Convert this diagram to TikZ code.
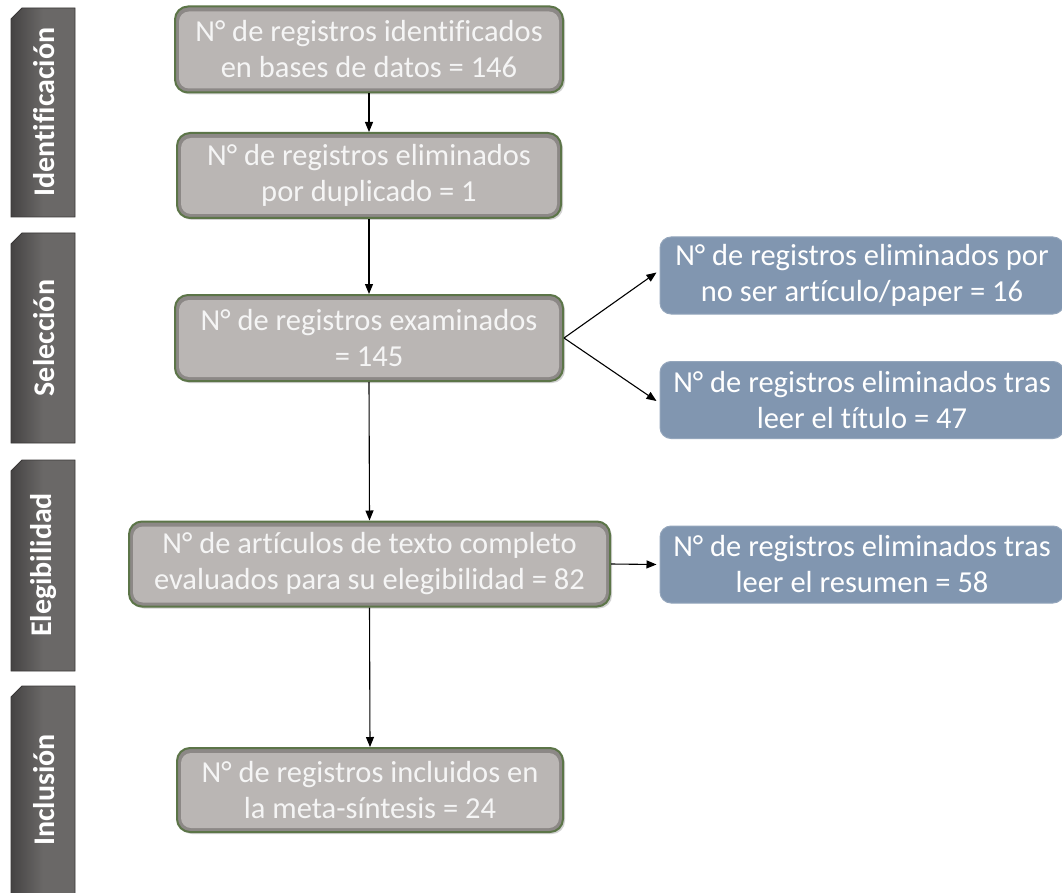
\documentclass[tikz,border=0pt]{standalone}
\usepackage{fontspec}
\setmainfont{Carlito}[Ligatures={NoCommon}]
\usetikzlibrary{arrows.meta,shadows}
\definecolor{barmid}{HTML}{6A6867}
\definecolor{barleft}{HTML}{454343}
\definecolor{baredge}{HTML}{3A3838}
\definecolor{boxedge}{HTML}{5C7548}
\definecolor{boxrim}{HTML}{8C8886}
\definecolor{boxin}{HTML}{BAB6B4}
\definecolor{bluebox}{HTML}{8196B0}
\tikzset{
  bar/.style={draw=baredge, line width=0.8pt, left color=barleft, right color=barmid, middle color=barmid},
  barlabel/.style={text=white, font=\fontsize{30}{36}\selectfont\bfseries, rotate=90, inner sep=0pt},
  graybox/.style={draw=boxedge, line width=2pt, rounded corners=13pt, fill=boxrim,
    text=white!96!black, font=\fontsize{30.5}{36}\selectfont, align=center, inner sep=0pt,
    drop shadow={opacity=0.35, shadow xshift=2pt, shadow yshift=-2pt},
    path picture={\fill[boxin, rounded corners=10pt]
      ([shift={(4pt,4pt)}]path picture bounding box.south west) rectangle
      ([shift={(-4pt,-5pt)}]path picture bounding box.north east);}},
  bluebox/.style={fill=bluebox, draw=bluebox!85!white, line width=1pt, rounded corners=11pt,
    text=white, font=\fontsize{30.5}{36}\selectfont, align=center, inner sep=0pt,
    minimum width=404pt, minimum height=77pt},
  conn/.style={draw=black, line width=1.1pt, -{Triangle[length=10pt,width=8pt]}}
}
\begin{document}
\begin{tikzpicture}[x=1pt,y=-1pt]
\useasboundingbox (0,0) rectangle (1062,893);
\clip (0,0) rectangle (1062,893);
\fill[white] (0,0) rectangle (1062,893);

% stage bars
\path[bar] (11,19) -- (22,8) -- (75,8) -- (75,217) -- (11,217) -- cycle;
\node[barlabel] (lid) at (44,112) {Identificación};
\path[bar] (11,244) -- (22,233) -- (75,233) -- (75,443) -- (11,443) -- cycle;
\node[barlabel] (lsel) at (44,338) {Selección};
\path[bar] (11,471) -- (22,460) -- (75,460) -- (75,671) -- (11,671) -- cycle;
\node[barlabel] (lele) at (44,565) {Elegibilidad};
\path[bar] (11,697) -- (22,686) -- (75,686) -- (75,905) -- (11,905) -- cycle;
\node[barlabel] (linc) at (44,790) {Inclusión};

% gray boxes
\node[graybox, minimum width=388pt, minimum height=86pt] (b1) at (369,49.5)
  {N° de registros identificados\\en bases de datos = 146};
\node[graybox, minimum width=384pt, minimum height=85pt] (b2) at (369,175.5)
  {N° de registros eliminados\\por duplicado = 1};
\node[graybox, minimum width=388pt, minimum height=86pt] (b3) at (369,338)
  {N° de registros examinados\\= 145};
\node[graybox, minimum width=481pt, minimum height=85pt] (b4) at (369.5,564)
  {N° de artículos de texto completo\\evaluados para su elegibilidad = 82};
\node[graybox, minimum width=386pt, minimum height=84pt] (b5) at (370,790)
  {N° de registros incluidos en\\la meta-síntesis = 24};

% blue boxes
\node[bluebox] (c1) at (862,275.5) {N° de registros eliminados por\\no ser artículo/paper = 16};
\node[bluebox] (c2) at (862,400) {N° de registros eliminados tras\\leer el título = 47};
\node[bluebox] (c3) at (862,564.5) {N° de registros eliminados tras\\leer el resumen = 58};

% connectors
\draw[conn] (b1.south) -- (b2.north);
\draw[conn] (b2.south) -- (b3.north);
\draw[conn] (b3.east) -- ([xshift=-3pt,yshift=3pt]c1.west);
\draw[conn] (b3.east) -- ([xshift=-3pt,yshift=-1pt]c2.west);
\draw[conn] (b3.south) -- (b4.north);
\draw[conn] (b4.east) -- ([xshift=-3pt]c3.west);
\draw[conn] (b4.south) -- (b5.north);
\end{tikzpicture}
\end{document}
